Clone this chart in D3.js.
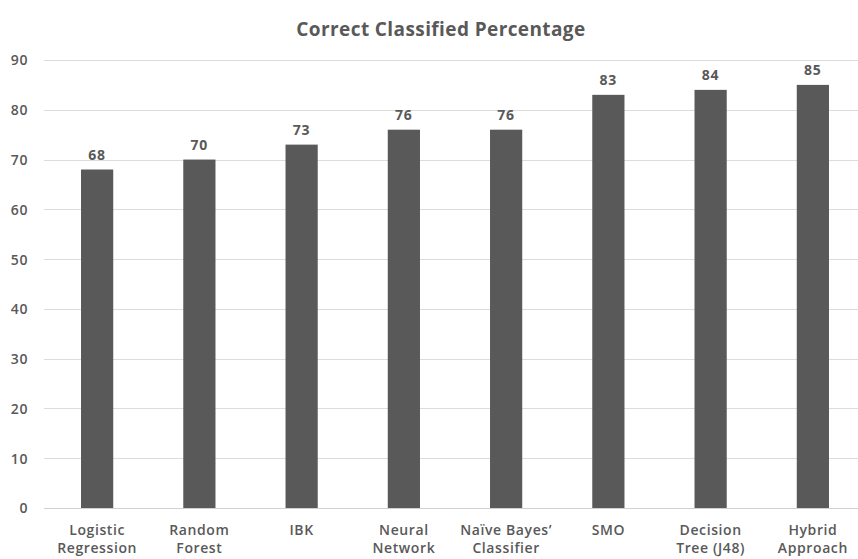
<!DOCTYPE html>
<html>
<head>
<meta charset="utf-8">
<script src="https://cdn.jsdelivr.net/npm/d3@7/dist/d3.min.js"></script>
<style>
  html, body { margin: 0; padding: 0; background: #fff; }
  svg { display: block; }
  text { font-family: "Open Sans", "Noto Sans", sans-serif; fill: #595959; }
</style>
</head>
<body>
<svg id="chart" width="858" height="559"></svg>
<script>
const categories = [
  ["Logistic", "Regression"],
  ["Random", "Forest"],
  ["IBK"],
  ["Neural", "Network"],
  ["Naïve Bayes’", "Classifier"],
  ["SMO"],
  ["Decision", "Tree (J48)"],
  ["Hybrid", "Approach"]
];
const values = [68, 70, 73, 76, 76, 83, 84, 85];
const yTicks = [0, 10, 20, 30, 40, 50, 60, 70, 80, 90];
const title = "Correct Classified Percentage";

const svg = d3.select("#chart");
const W = 858, H = 559;
const plot = { left: 46, right: 864, top: 60, bottom: 508 };

const keys = categories.map(c => c.join(" "));
const x = d3.scaleBand().domain(keys).range([plot.left, plot.right]).paddingInner(0.685).paddingOuter(0.3425);
const y = d3.scaleLinear().domain([0, 90]).range([plot.bottom, plot.top]);

svg.append("rect").attr("width", W).attr("height", H).attr("fill", "#fff");

// title
svg.append("text")
  .attr("x", 441).attr("y", 36)
  .attr("text-anchor", "middle")
  .attr("font-size", 19).attr("font-weight", 700)
  .attr("letter-spacing", 0.4)
  .text(title);

// gridlines
svg.append("g").selectAll("line").data(yTicks).join("line")
  .attr("x1", plot.left - 2).attr("x2", W)
  .attr("y1", d => Math.round(y(d)) + 0.5).attr("y2", d => Math.round(y(d)) + 0.5)
  .attr("stroke", d => d === 0 ? "#d0d0d0" : "#dcdcdc").attr("stroke-width", 1);

// y axis
const yAxis = d3.axisLeft(y).tickValues(yTicks).tickSize(0).tickPadding(0);
const ga = svg.append("g").attr("transform", `translate(28,0)`).call(yAxis);
ga.select(".domain").remove();
ga.selectAll("text").attr("font-size", 14).attr("font-weight", 600)
  .attr("letter-spacing", 0.6)
  .style("font-family", "'Open Sans', sans-serif").attr("fill", "#595959").attr("dy", "0.35em");

// bars
svg.append("g").selectAll("rect").data(values).join("rect")
  .attr("x", (d, i) => x(keys[i]))
  .attr("width", x.bandwidth())
  .attr("y", d => y(d))
  .attr("height", d => y(0) - y(d))
  .attr("fill", "#595959");

// value labels
svg.append("g").selectAll("text").data(values).join("text")
  .attr("x", (d, i) => x(keys[i]) + x.bandwidth() / 2)
  .attr("y", d => y(d) - 10)
  .attr("text-anchor", "middle")
  .attr("font-size", 14).attr("font-weight", 700)
  .attr("letter-spacing", 0.8)
  .text(d => d);

// category labels
const xAxis = d3.axisBottom(x).tickSize(0).tickFormat("");
const gx = svg.append("g").attr("transform", `translate(0,${plot.bottom})`).call(xAxis);
gx.select(".domain").remove();
gx.selectAll(".tick").each(function(d, i) {
  const t = d3.select(this).append("text")
    .attr("text-anchor", "middle")
    .attr("font-size", 14).attr("font-weight", 600)
    .attr("letter-spacing", 0.6)
    .attr("fill", "#595959");
  categories[i].forEach((line, j) => {
    t.append("tspan").attr("x", 0).attr("y", 27 + j * 18).text(line);
  });
});
</script>
</body>
</html>
